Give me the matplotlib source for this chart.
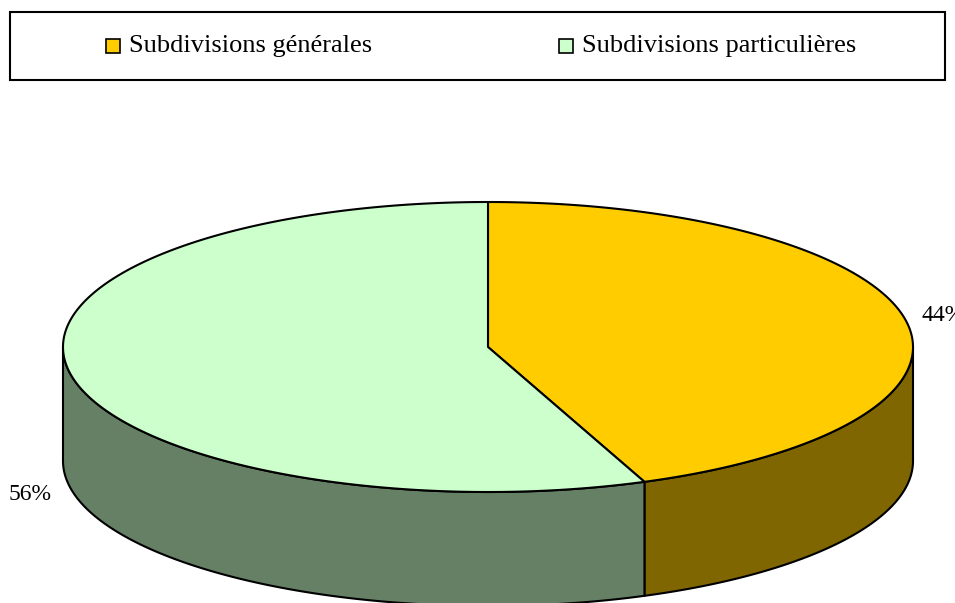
import numpy as np
import matplotlib.pyplot as plt
from matplotlib.patches import Polygon, Rectangle

# Données
labels = ['Subdivisions générales', 'Subdivisions particulières']
values = [44, 56]
top_colors = ['#FFCC00', '#CCFFCC']
side_colors = ['#806600', '#668066']

plt.rcParams['font.family'] = ['Liberation Serif', 'DejaVu Serif']

W, H = 955, 603
fig = plt.figure(figsize=(W / 100, H / 100), dpi=100)
ax = fig.add_axes([0, 0, 1, 1])
ax.set_xlim(0, W)
ax.set_ylim(H, 0)
ax.axis('off')

# Géométrie du camembert 3D (en pixels)
cx, cy = 488, 347
a, b = 425, 145
depth = 114


def ell(t):
    t = np.radians(t)
    return cx + a * np.cos(t), cy - b * np.sin(t)


# angles : départ à 12h, sens horaire
fracs = np.array(values) / sum(values)
starts = 90 - 360 * np.concatenate([[0], np.cumsum(fracs)[:-1]])
ends = starts - 360 * fracs

# faces latérales (moitié avant seulement : angles entre -180 et 0)
for s, e, col in zip(starts, ends, side_colors):
    lo, hi = max(e, -180), min(s, 0)
    if lo >= hi:
        continue
    t = np.linspace(hi, lo, 200)
    x, y = ell(t)
    xs = np.concatenate([x, x[::-1]])
    ys = np.concatenate([y, y[::-1] + depth])
    ax.add_patch(Polygon(np.column_stack([xs, ys]), closed=True,
                         facecolor=col, edgecolor='black', lw=1.5,
                         joinstyle='round'))

# faces supérieures
for s, e, col in zip(starts, ends, top_colors):
    t = np.linspace(s, e, 300)
    x, y = ell(t)
    pts = np.column_stack([np.concatenate([[cx], x]), np.concatenate([[cy], y])])
    ax.add_patch(Polygon(pts, closed=True, facecolor=col, edgecolor='black',
                         lw=1.5, joinstyle='round'))

# étiquettes de pourcentage
for s, e, v in zip(starts, ends, values):
    mid = (s + e) / 2
    x, y = ell(mid)
    txt = f'{v}%'
    if np.cos(np.radians(mid)) >= 0:
        ax.text(x + 16, y - 4, txt, ha='left', va='center', fontsize=17)
    else:
        ax.text(x - 19, y + depth + 6, txt, ha='right', va='center', fontsize=17)

# légende
ax.add_patch(Rectangle((10, 12), 935, 68, facecolor='white', edgecolor='black', lw=1.5))
leg_x = [106, 559]
for lx, lab, col in zip(leg_x, labels, top_colors):
    ax.add_patch(Rectangle((lx, 39), 14, 14, facecolor=col, edgecolor='black', lw=1.2))
    ax.text(lx + 23, 46, lab, ha='left', va='center', fontsize=19)

fig.savefig('out.png', dpi=100)
